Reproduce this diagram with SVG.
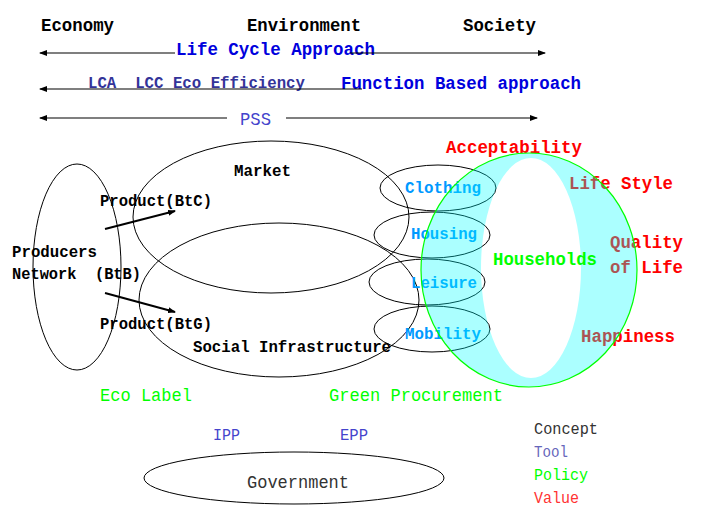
<svg xmlns="http://www.w3.org/2000/svg" width="701" height="518" viewBox="0 0 701 518">
<defs>
<marker id="ah" markerWidth="8" markerHeight="6" refX="7" refY="3" orient="auto" markerUnits="userSpaceOnUse"><path d="M0,0 L8,3 L0,6 z" fill="#000"/></marker>
<style>
text{font-family:"Liberation Mono","Courier New",monospace;white-space:pre;}
.b{font-weight:bold;}
.h{font-size:18.5px;}
.m{font-size:16.5px;}
.blk{fill:#000;}
.val{fill:#ff0000;}
.pol{fill:#00ff00;}
.tool{fill:#4444cc;}
.act{fill:#0099ff;}
.e{fill:none;stroke:#000;stroke-width:1;}
</style>
</defs>
<rect width="701" height="518" fill="#fff"/>
<g id="header">
<text class="b h blk" x="41" y="31" textLength="73" lengthAdjust="spacingAndGlyphs">Economy</text>
<text class="b h blk" x="247" y="31" textLength="114" lengthAdjust="spacingAndGlyphs">Environment</text>
<text class="b h blk" x="463" y="31" textLength="73" lengthAdjust="spacingAndGlyphs">Society</text>
<text class="b h" x="176" y="55" fill="#0000dd" textLength="199" lengthAdjust="spacingAndGlyphs">Life Cycle Approach</text>
<text class="b m" x="88" y="88" fill="#333399" textLength="217" lengthAdjust="spacingAndGlyphs" xml:space="preserve">LCA  LCC Eco Efficiency</text>
<text class="b h" x="341" y="89" fill="#0000dd" textLength="240" lengthAdjust="spacingAndGlyphs">Function Based approach</text>
<text class="h tool" x="240" y="125" textLength="31" lengthAdjust="spacingAndGlyphs">PSS</text>
</g>
<g id="connectors" stroke="#000" fill="none">
<line x1="175" y1="53" x2="40" y2="53" stroke-width="1.2" marker-end="url(#ah)"/>
<line x1="350" y1="53" x2="545" y2="53" stroke-width="1.2" marker-end="url(#ah)"/>
<line x1="362" y1="89" x2="40" y2="89" stroke-width="1.2" marker-end="url(#ah)"/>
<line x1="227" y1="118" x2="40" y2="118" stroke="#555" stroke-width="1.5" marker-end="url(#ah)"/>
<line x1="286" y1="118" x2="537" y2="118" stroke="#555" stroke-width="1.5" marker-end="url(#ah)"/>
<line x1="105" y1="229" x2="175" y2="211" stroke-width="2" marker-end="url(#ah)"/>
<line x1="105" y1="293" x2="175" y2="312" stroke-width="2" marker-end="url(#ah)"/>
</g>
<g id="producers">
<ellipse class="e" cx="77" cy="267" rx="44" ry="103"/>
<text class="b m blk" x="12" y="257" textLength="85" lengthAdjust="spacingAndGlyphs">Producers</text>
<text class="b m blk" x="12" y="279" textLength="129" lengthAdjust="spacingAndGlyphs" xml:space="preserve">Network  (BtB)</text>
<text class="b m blk" x="100" y="206" textLength="112" lengthAdjust="spacingAndGlyphs">Product(BtC)</text>
<text class="b m blk" x="100" y="329" textLength="112" lengthAdjust="spacingAndGlyphs">Product(BtG)</text>
</g>
<g id="market">
<ellipse class="e" cx="271" cy="217" rx="138" ry="76"/>
<text class="b m blk" x="234" y="176" textLength="57" lengthAdjust="spacingAndGlyphs">Market</text>
</g>
<g id="social-infrastructure">
<ellipse class="e" cx="279" cy="300" rx="140" ry="77"/>
<text class="b m blk" x="193" y="352" textLength="198" lengthAdjust="spacingAndGlyphs">Social Infrastructure</text>
</g>
<g id="activities">
<ellipse class="e" cx="438" cy="188" rx="58" ry="23"/>
<ellipse class="e" cx="432" cy="235" rx="58" ry="23"/>
<ellipse class="e" cx="427" cy="282" rx="58" ry="23"/>
<ellipse class="e" cx="432" cy="329" rx="58" ry="23"/>
<text class="b m act" x="405" y="193" textLength="76" lengthAdjust="spacingAndGlyphs">Clothing</text>
<text class="b m act" x="411" y="239" textLength="66" lengthAdjust="spacingAndGlyphs">Housing</text>
<text class="b m act" x="411" y="288" textLength="66" lengthAdjust="spacingAndGlyphs">Leisure</text>
<text class="b m act" x="405" y="339" textLength="76" lengthAdjust="spacingAndGlyphs">Mobility</text>
</g>
<g id="values">
<text class="b h val" x="446" y="153" textLength="136" lengthAdjust="spacingAndGlyphs">Acceptability</text>
<text class="b h val" x="569" y="189" textLength="104" lengthAdjust="spacingAndGlyphs">Life Style</text>
<text class="b h val" x="610" y="248" textLength="73" lengthAdjust="spacingAndGlyphs">Quality</text>
<text class="b h val" x="610" y="273" textLength="73" lengthAdjust="spacingAndGlyphs">of Life</text>
<text class="b h val" x="581" y="342" textLength="94" lengthAdjust="spacingAndGlyphs">Happiness</text>
</g>
<g id="households">
<path d="M421,270 a108,117 0 1,0 216,0 a108,117 0 1,0 -216,0 z M481,268 a50,110 0 1,0 100,0 a50,110 0 1,0 -100,0 z" fill="#00ffff" fill-opacity="0.33" fill-rule="evenodd"/>
<ellipse cx="529" cy="270" rx="108" ry="117" fill="none" stroke="#00ff00" stroke-width="1.2"/>
<text class="b h pol" x="493" y="265" textLength="104" lengthAdjust="spacingAndGlyphs">Households</text>
</g>
<g id="policies">
<text class="h pol" x="100" y="401" textLength="92" lengthAdjust="spacingAndGlyphs">Eco Label</text>
<text class="h pol" x="329" y="401" textLength="174" lengthAdjust="spacingAndGlyphs">Green Procurement</text>
<text class="m tool" x="213" y="440" textLength="27" lengthAdjust="spacingAndGlyphs">IPP</text>
<text class="m tool" x="340" y="440" textLength="28" lengthAdjust="spacingAndGlyphs">EPP</text>
</g>
<g id="government">
<ellipse class="e" cx="294" cy="478" rx="150" ry="26"/>
<text class="h" x="247" y="488" fill="#333" textLength="102" lengthAdjust="spacingAndGlyphs">Government</text>
</g>
<g id="legend">
<text class="m" x="534" y="434" fill="#333" textLength="64" lengthAdjust="spacingAndGlyphs">Concept</text>
<text class="m" x="534" y="457" fill="#6666bb" textLength="34" lengthAdjust="spacingAndGlyphs">Tool</text>
<text class="m" x="534" y="480" fill="#00ff00" textLength="54" lengthAdjust="spacingAndGlyphs">Policy</text>
<text class="m" x="534" y="503" fill="#ff3333" textLength="45" lengthAdjust="spacingAndGlyphs">Value</text>
</g>
</svg>
